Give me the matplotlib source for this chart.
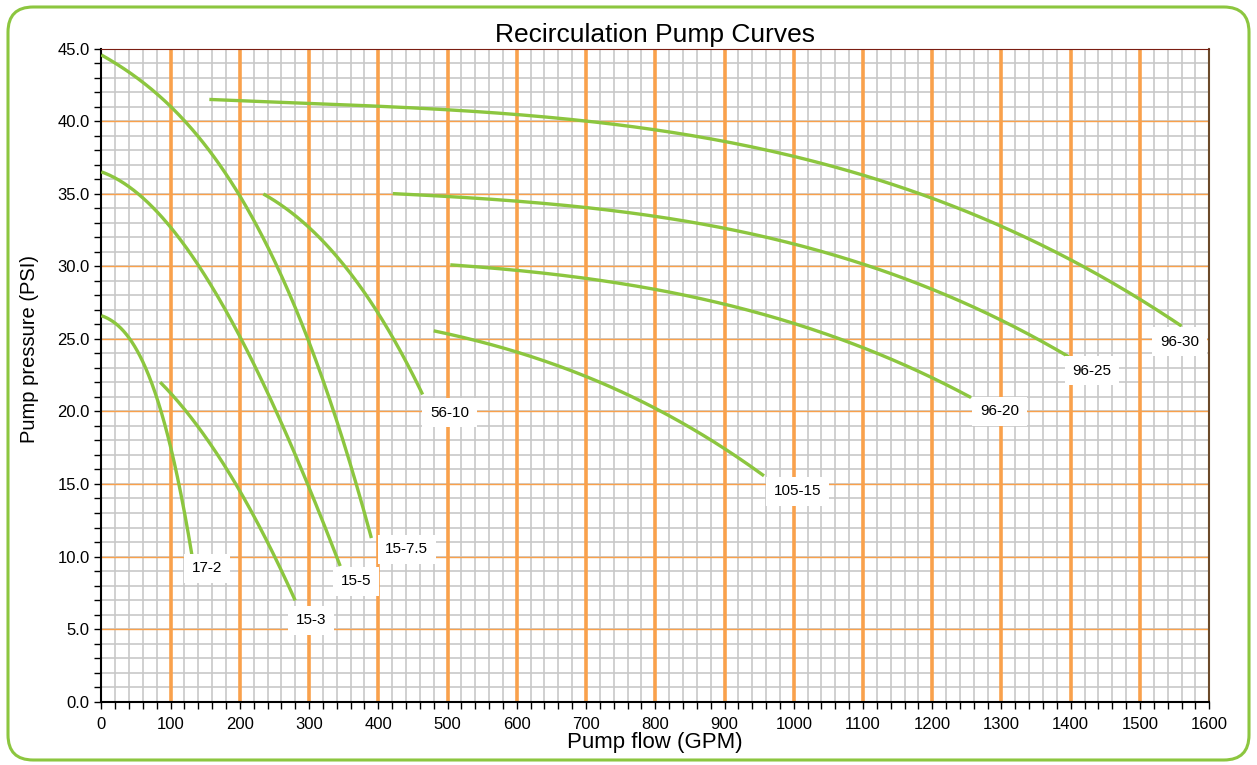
import numpy as np
import matplotlib.pyplot as plt
from matplotlib.patches import FancyBboxPatch
from matplotlib.ticker import MultipleLocator

plt.rcParams['font.family'] = ['Liberation Sans', 'DejaVu Sans']

# Pump curves: flow (GPM) and pressure (PSI)
flow_17_2 = [0, 39, 64, 83, 100, 116, 131]
psi_17_2 = [26.6, 25.1, 23.1, 20.3, 17.8, 13.9, 10.1]

flow_15_3 = [85, 100, 143, 200, 244, 280]
psi_15_3 = [22.3, 21.2, 18.2, 14.5, 11.4, 6.5]

flow_15_5 = [0, 54, 100, 145, 200, 251, 300, 345]
psi_15_5 = [36.5, 35.0, 32.6, 29.8, 25.2, 20.0, 14.9, 9.3]

flow_15_75 = [0, 54, 100, 160, 200, 250, 300, 339, 390]
psi_15_75 = [44.65, 42.7, 41.0, 37.9, 35.0, 30.0, 25.0, 19.4, 11.3]

flow_56_10 = [234, 300, 355, 400, 431, 464]
psi_56_10 = [35.0, 32.6, 29.85, 26.9, 24.0, 21.25]

flow_105_15 = [480, 600, 700, 800, 900, 957]
psi_105_15 = [25.55, 24.1, 22.4, 20.2, 17.45, 15.55]

flow_96_20 = [504, 600, 700, 800, 900, 1000, 1100, 1200, 1256]
psi_96_20 = [30.1, 29.7, 29.2, 28.4, 27.4, 26.0, 24.4, 22.4, 20.9]

flow_96_25 = [421, 500, 600, 700, 800, 900, 1000, 1100, 1200, 1300, 1397]
psi_96_25 = [35.0, 34.8, 34.5, 34.1, 33.4, 32.6, 31.5, 30.2, 28.4, 26.3, 23.75]

flow_96_30 = [156, 300, 500, 600, 700, 800, 900, 1000, 1100, 1200,
              1300, 1400, 1500, 1560]
psi_96_30 = [41.5, 41.2, 40.8, 40.5, 40.0, 39.4, 38.5, 37.6, 36.3,
             34.7, 32.8, 30.4, 27.7, 25.9]

curves = [
    ('17-2', flow_17_2, psi_17_2, (153, 9.2)),
    ('15-3', flow_15_3, psi_15_3, (303, 5.6)),
    ('15-5', flow_15_5, psi_15_5, (368, 8.3)),
    ('15-7.5', flow_15_75, psi_15_75, (441, 10.5)),
    ('56-10', flow_56_10, psi_56_10, (503, 19.9)),
    ('105-15', flow_105_15, psi_105_15, (1005, 14.5)),
    ('96-20', flow_96_20, psi_96_20, (1297, 20.0)),
    ('96-25', flow_96_25, psi_96_25, (1431, 22.8)),
    ('96-30', flow_96_30, psi_96_30, (1557, 24.8)),
]

green = '#8cc63f'
orange = '#f9a14c'

fig = plt.figure(figsize=(12.57, 7.65), dpi=100)
ax = fig.add_axes([0.0806, 0.0828, 0.8814, 0.8537])

for name, fx, fy, lab in curves:
    # least-squares trend through the read points, so the stroke stays smooth
    deg = 2 if name == '15-3' else 3
    k = np.polyfit(fx, fy, deg)
    xs = np.linspace(fx[0], fx[-1], 200)
    ax.plot(xs, np.polyval(k, xs), color=green, lw=2.4, solid_capstyle='butt', zorder=3)
    ax.text(lab[0], lab[1], name, fontsize=11, ha='center', va='center', zorder=4,
            bbox=dict(boxstyle='square,pad=0.5', fc='white', ec='none'))

ax.set_xlim(0, 1600)
ax.set_ylim(0, 45)
ax.xaxis.set_major_locator(MultipleLocator(100))
ax.xaxis.set_minor_locator(MultipleLocator(20))
ax.yaxis.set_major_locator(MultipleLocator(5))
ax.yaxis.set_minor_locator(MultipleLocator(1))
ax.yaxis.set_major_formatter(lambda v, p: f'{v:.1f}')

# light grid first, orange guide lines on top of it
ax.set_axisbelow(True)
ax.grid(which='minor', color='#c8c8c8', lw=1.2)
ax.grid(which='major', color='#c8c8c8', lw=1.2)
for v in np.arange(5, 45, 5):
    ax.axhline(v, color=orange, lw=1.0, zorder=1)
for v in np.arange(100, 1600, 100):
    ax.axvline(v, color=orange, lw=2.6, zorder=1.1)

ax.tick_params(which='both', direction='out', length=5, width=1, color='black',
               labelsize=12, top=False, right=False)
ax.tick_params(axis='x', pad=6)
ax.spines['top'].set_color('#7a1e12')
ax.spines['right'].set_color('#6b4a2a')
ax.spines['right'].set_linewidth(1.5)
for s in ['left', 'bottom']:
    ax.spines[s].set_linewidth(1.5)

ax.set_title('Recirculation Pump Curves', fontsize=19, pad=5)
ax.set_xlabel('Pump flow (GPM)', fontsize=16, labelpad=0)
ax.set_ylabel('Pump pressure (PSI)', fontsize=14.5)
ax.yaxis.set_label_coords(-0.056, 0.54)

border = FancyBboxPatch((8 / 1257, 5 / 765), 1241 / 1257, 753 / 765,
                        boxstyle='round,pad=0,rounding_size=0.02',
                        transform=fig.transFigure, fc='none', ec=green, lw=2.2,
                        mutation_aspect=1257 / 765)
fig.patches.append(border)

fig.savefig('out.png', dpi=100)
